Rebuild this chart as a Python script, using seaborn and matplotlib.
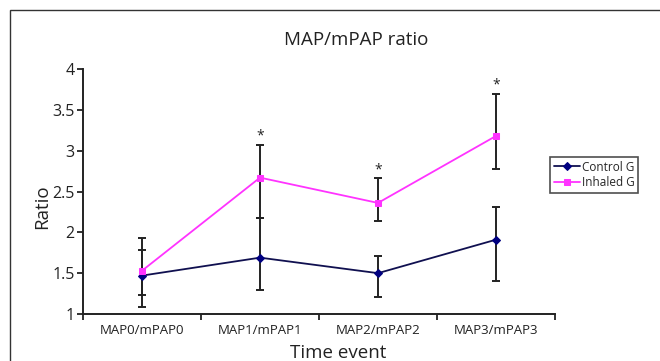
import matplotlib
matplotlib.use("Agg")
import matplotlib.pyplot as plt
import seaborn as sns
import pandas as pd
import numpy as np
from matplotlib.patches import Rectangle
from matplotlib.ticker import FixedLocator

categories = ['MAP0/mPAP0', 'MAP1/mPAP1', 'MAP2/mPAP2', 'MAP3/mPAP3']
control_mean = [1.47, 1.69, 1.50, 1.91]
control_low = [1.23, 1.29, 1.21, 1.40]
control_high = [1.78, 2.18, 1.71, 2.31]
inhaled_mean = [1.53, 2.67, 2.36, 3.18]
inhaled_low = [1.08, 2.18, 2.14, 2.78]
inhaled_high = [1.93, 3.07, 2.66, 3.69]
significant = [False, True, True, True]
yticks = [1, 1.5, 2, 2.5, 3, 3.5, 4]
ytick_labels = ['1', '1.5', '2', '2.5', '3', '3.5', '4']

sns.set_theme(style="white")
plt.rcParams['font.family'] = ['Open Sans', 'DejaVu Sans']

fig = plt.figure(figsize=(6.6, 3.61), dpi=100)
ax = fig.add_axes([83/660, 1-314/361, (555-83)/660, (314-69)/361])

df = pd.DataFrame({'cat': categories, 'control': control_mean, 'inhaled': inhaled_mean})

ctrl_line = '#101050'
ctrl_mark = '#000080'
inh_col = '#ff33ff'

# error bars first (below lines)
cm = np.array(control_mean); im = np.array(inhaled_mean)
ax.errorbar(categories, cm, yerr=[cm-np.array(control_low), np.array(control_high)-cm],
            fmt='none', ecolor='#222222', elinewidth=1.4, capsize=3, capthick=1.4, zorder=1)
ax.errorbar(categories, im, yerr=[im-np.array(inhaled_low), np.array(inhaled_high)-im],
            fmt='none', ecolor='#222222', elinewidth=1.4, capsize=3, capthick=1.4, zorder=1)

sns.lineplot(data=df, x='cat', y='control', ax=ax, sort=False, color=ctrl_line, lw=1.3,
             marker='D', markersize=4.5, markerfacecolor=ctrl_mark, markeredgecolor=ctrl_mark,
             label='Control G', zorder=3)
sns.lineplot(data=df, x='cat', y='inhaled', ax=ax, sort=False, color=inh_col, lw=1.3,
             marker='s', markersize=5, markerfacecolor=inh_col, markeredgecolor=inh_col,
             label='Inhaled G', zorder=3)

for i, s in enumerate(significant):
    if s:
        ax.annotate('*', (categories[i], inhaled_high[i]), xytext=(0, 1), textcoords='offset points',
                    ha='center', va='bottom', fontsize=10, color='#222222')

ax.set_xlim(-0.5, 3.5)
ax.set_ylim(1, 4)
ax.set_yticks(yticks)
ax.set_yticklabels(ytick_labels, fontsize=11.5, color='#222222')
ax.tick_params(axis='y', which='major', direction='out', length=4, width=1.3, color='#222222', left=True, pad=2)
ax.tick_params(axis='x', which='major', length=0, labelsize=9.5, labelcolor='#222222', pad=7)
ax.xaxis.set_minor_locator(FixedLocator([-0.5, 0.5, 1.5, 2.5, 3.5]))
ax.tick_params(axis='x', which='minor', direction='out', length=4, width=1.3, color='#222222', bottom=True)
for sp in ['top', 'right']:
    ax.spines[sp].set_visible(False)
for sp in ['left', 'bottom']:
    ax.spines[sp].set_color('#222222')
    ax.spines[sp].set_linewidth(1.4)
ax.set_xlabel('')
ax.set_ylabel('')
ax.grid(False)

fig.text(356/660, 1-40/361, 'MAP/mPAP ratio', ha='center', va='center', fontsize=13.5, color='#222222')
fig.text(42/660, 1-207/361, 'Ratio', ha='center', va='center', rotation=90, fontsize=13.5, color='#222222')
fig.text(338/660, 1-358/361, 'Time event', ha='center', va='baseline', fontsize=13.5, color='#222222')

leg = ax.legend(loc='upper left', bbox_to_anchor=(550/660, 1-157/361), bbox_transform=fig.transFigure,
                frameon=True, fancybox=False, edgecolor='#222222', fontsize=8.5, handlelength=2.2,
                handletextpad=0.2, borderpad=0.3, labelspacing=0.25, borderaxespad=0)
leg.get_frame().set_linewidth(1.2)

fig.patches.append(Rectangle((10/660, -0.1), 1.2, 1-10/361+0.1, transform=fig.transFigure,
                             fill=False, edgecolor='#333333', linewidth=1.0, clip_on=False))

fig.savefig('out.png', dpi=100, facecolor='white')
